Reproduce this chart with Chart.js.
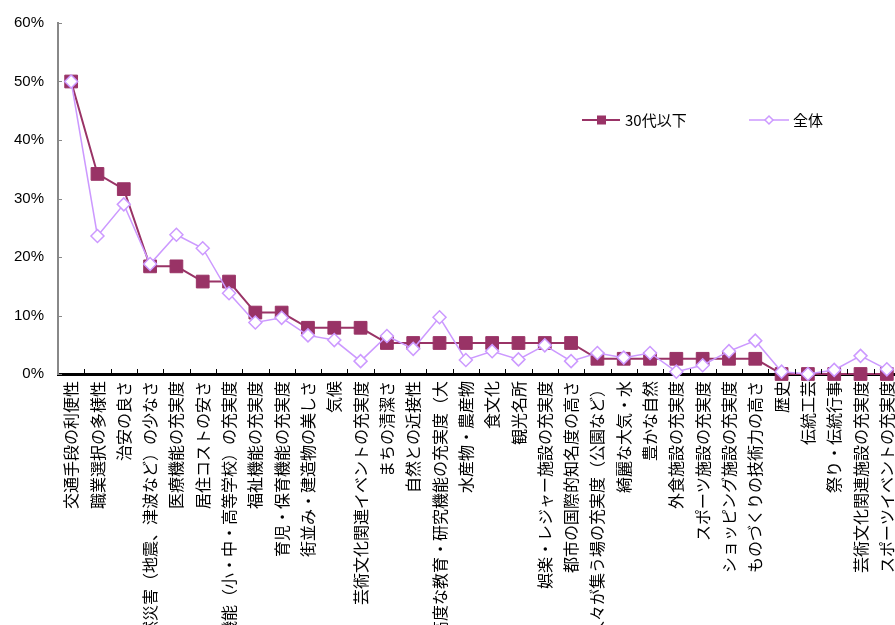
<!DOCTYPE html>
<html>
<head>
<meta charset="utf-8">
<script src="https://cdn.jsdelivr.net/npm/chart.js@4/dist/chart.umd.min.js"></script>
<style>
  html, body { margin: 0; padding: 0; background: #fff; overflow: hidden; }
  canvas { display: block; }
</style>
</head>
<body>
<canvas id="chart" width="900" height="625"></canvas>
<script>
const categories = [
  '交通手段の利便性', '職業選択の多様性', '治安の良さ', '自然災害（地震、津波など）の少なさ',
  '医療機能の充実度', '居住コストの安さ', '教育機能（小・中・高等学校）の充実度', '福祉機能の充実度',
  '育児・保育機能の充実度', '街並み・建造物の美しさ', '気候', '芸術文化関連イベントの充実度',
  'まちの清潔さ', '自然との近接性', '高度な教育・研究機能の充実度（大', '水産物・農産物',
  '食文化', '観光名所', '娯楽・レジャー施設の充実度', '都市の国際的知名度の高さ',
  '人々が集う場の充実度（公園など）', '綺麗な大気・水', '豊かな自然', '外食施設の充実度',
  'スポーツ施設の充実度', 'ショッピング施設の充実度', 'ものづくりの技術力の高さ', '歴史',
  '伝統工芸', '祭り・伝統行事', '芸術文化関連施設の充実度', 'スポーツイベントの充実度'
];
const under30 = [
  50.0, 34.2, 31.6, 18.4, 18.4, 15.8, 15.8, 10.5, 10.5, 7.9, 7.9, 7.9,
  5.3, 5.3, 5.3, 5.3, 5.3, 5.3, 5.3, 5.3, 2.6, 2.6, 2.6, 2.6, 2.6, 2.6, 2.6,
  0, 0, 0, 0, 0
];
const overall = [
  50.0, 23.6, 29.0, 18.8, 23.8, 21.5, 13.8, 8.8, 9.6, 6.6, 5.8, 2.2,
  6.5, 4.3, 9.7, 2.4, 3.9, 2.5, 4.9, 2.2, 3.6, 2.8, 3.6, 0.4, 1.5, 3.9,
  5.7, 0.4, 0.0, 0.7, 3.1, 0.8
];
const yTicks = [0, 10, 20, 30, 40, 50, 60];

const maroon = '#993366';
const lilac = '#cc99ff';

// short tick marks pointing into the plot, plus the legend box
const extras = {
  id: 'extras',
  afterDraw(chart) {
    const ctx = chart.ctx;
    const x = chart.scales.x, y = chart.scales.y;
    const area = chart.chartArea;
    ctx.save();
    ctx.strokeStyle = '#888';
    ctx.lineWidth = 1;
    yTicks.forEach(v => {
      const py = Math.round(y.getPixelForValue(v)) + 0.5;
      ctx.beginPath();
      ctx.moveTo(area.left, py);
      ctx.lineTo(area.left + 4, py);
      ctx.stroke();
    });
    ctx.strokeStyle = '#000';
    for (let i = 1; i < categories.length; i++) {
      const px = Math.round((x.getPixelForValue(i - 1) + x.getPixelForValue(i)) / 2) + 0.5;
      ctx.beginPath();
      ctx.moveTo(px, area.bottom);
      ctx.lineTo(px, area.bottom - 5);
      ctx.stroke();
    }

    // legend
    const ly = 120;
    ctx.font = '15px "Noto Sans CJK JP"';
    ctx.textBaseline = 'middle';
    ctx.fillStyle = '#000';

    ctx.strokeStyle = maroon;
    ctx.lineWidth = 2;
    ctx.beginPath();
    ctx.moveTo(582, ly); ctx.lineTo(620, ly);
    ctx.stroke();
    ctx.fillStyle = maroon;
    ctx.fillRect(597, ly - 4.5, 9, 9);
    ctx.fillStyle = '#000';
    ctx.fillText('30代以下', 625, ly);

    ctx.strokeStyle = lilac;
    ctx.lineWidth = 1.5;
    ctx.beginPath();
    ctx.moveTo(749, ly); ctx.lineTo(789, ly);
    ctx.stroke();
    ctx.beginPath();
    ctx.moveTo(769, ly - 4); ctx.lineTo(773, ly); ctx.lineTo(769, ly + 4); ctx.lineTo(765, ly);
    ctx.closePath();
    ctx.fillStyle = '#fff';
    ctx.fill();
    ctx.stroke();
    ctx.fillStyle = '#000';
    ctx.fillText('全体', 793, ly);
    ctx.restore();
  }
};

new Chart('chart', {
  type: 'line',
  data: {
    labels: categories,
    datasets: [
      {
        label: '全体',
        data: overall,
        borderColor: lilac,
        borderWidth: 1.5,
        pointStyle: 'rectRot',
        pointRadius: 6.5,
        pointBackgroundColor: '#fff',
        pointBorderColor: lilac,
        pointBorderWidth: 1.5,
        order: 0,
        clip: false
      },
      {
        label: '30代以下',
        data: under30,
        borderColor: maroon,
        borderWidth: 2,
        pointStyle: 'rect',
        pointRadius: 9,
        pointBackgroundColor: maroon,
        pointBorderColor: maroon,
        pointBorderWidth: 1,
        order: 1,
        clip: false
      }
    ]
  },
  options: {
    responsive: false,
    animation: false,
    layout: { autoPadding: false, padding: { top: 21, right: 0, left: 0, bottom: 0 } },
    plugins: { legend: { display: false }, tooltip: { enabled: false } },
    scales: {
      x: {
        offset: true,
        grid: { display: false, drawTicks: false },
        border: { display: true, color: '#000', width: 3 },
        ticks: {
          autoSkip: false,
          minRotation: 90,
          maxRotation: 90,
          padding: 7,
          color: '#000',
          font: { family: '"Noto Sans CJK JP"', size: 16 }
        },
        afterFit(scale) {
          scale.height = 251;
          scale.paddingLeft = 0;
          scale.paddingRight = 0;
        }
      },
      y: {
        min: 0,
        max: 60,
        grid: { display: false, drawTicks: false },
        border: { display: true, color: '#888', width: 2 },
        ticks: {
          stepSize: 10,
          padding: 14,
          color: '#000',
          font: { family: '"Liberation Sans", Arial, sans-serif', size: 15 },
          callback: v => v + '%'
        },
        afterFit(scale) { scale.width = 58; }
      }
    }
  },
  plugins: [extras]
});
</script>
</body>
</html>
